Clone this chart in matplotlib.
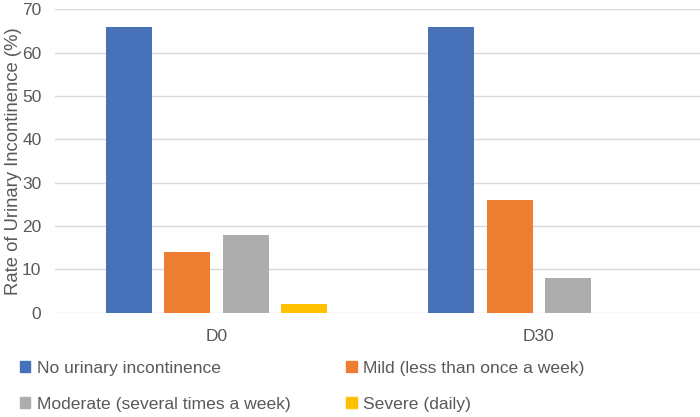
import matplotlib.pyplot as plt
import numpy as np
from matplotlib.patches import Patch

plt.rcParams['font.family'] = ['Liberation Sans', 'DejaVu Sans']

# data
timepoints = ['D0', 'D30']
severity = ['No urinary incontinence', 'Mild (less than once a week)',
            'Moderate (several times a week)', 'Severe (daily)']
no_ui = [66, 66]
mild = [14, 26]
moderate = [18, 8]
severe = [2, 0]
series = [no_ui, mild, moderate, severe]
colors = ['#4771B9', '#ED7D31', '#ADADAD', '#FFC000']

txt = '#595959'
fig = plt.figure(figsize=(7, 4.17), dpi=100)
ax = fig.add_axes([0.079, 0.25, 0.921, 0.728])

x = np.arange(len(timepoints))
slot = 0.1814
width = 0.1426
for i, (vals, c) in enumerate(zip(series, colors)):
    ax.bar(x + (i - 1.5) * slot, vals, width, color=c, zorder=3)

ax.set_xlim(-0.5, 1.5)
ax.set_ylim(0, 70)
ax.set_yticks(range(0, 71, 10))
ax.set_xticks(x)
ax.set_xticklabels(timepoints)
ax.grid(axis='y', color='#d9d9d9', linewidth=1, zorder=0)
for s in ax.spines.values():
    s.set_visible(False)
ax.tick_params(length=0, labelsize=12.5, colors=txt)
ax.tick_params(axis='x', pad=12)
ax.tick_params(axis='y', pad=10)
ax.set_ylabel('Rate of Urinary Incontinence (%)', fontsize=13.3, color=txt)
ax.yaxis.set_label_coords(-0.052, 0.5)

# legend fills column-wise, so reorder to read row by row
order = [0, 2, 1, 3]
handles = [Patch(color=colors[i]) for i in order]
labels = [severity[i] for i in order]
fig.legend(handles, labels, loc='lower left', bbox_to_anchor=(0.006, -0.025),
           ncol=2, frameon=False, fontsize=12.6, labelcolor=txt,
           handlelength=0.6, handleheight=0.6, handletextpad=0.35,
           columnspacing=3.2, labelspacing=1.2)

fig.savefig('out.png', dpi=100)
